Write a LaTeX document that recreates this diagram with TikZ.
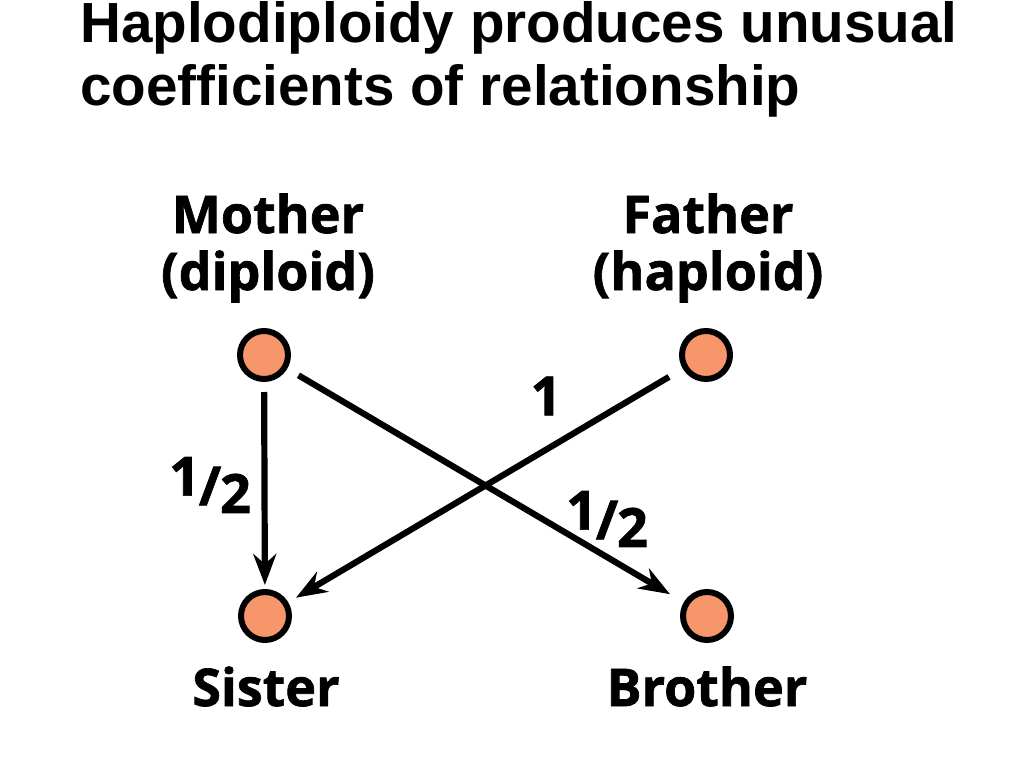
\documentclass[tikz,border=0pt]{standalone}
\usepackage{fontspec}
\setmainfont{Liberation Sans}
\newfontfamily\labfont{Open Sans}[BoldFeatures={FakeBold=1.3}]
\usetikzlibrary{arrows.meta}
\definecolor{dotfill}{RGB}{247,150,106}
\tikzset{
  dot/.style={circle, draw=black, line width=6pt, fill=dotfill, minimum size=48pt, inner sep=0pt, outer sep=0pt},
  lab/.style={font=\labfont\bfseries\fontsize{52}{57}\selectfont, anchor=base, inner sep=0pt},
  frac/.style={font=\labfont\bfseries\fontsize{54}{58}\selectfont, inner sep=0pt},
  arr/.style={line width=6.2pt, -{Stealth[length=31pt,width=23pt,inset=10pt]}},
  title/.style={font=\bfseries\fontsize{56.6}{62}\selectfont, anchor=base west, inner sep=0pt, align=left}
}
\newcommand{\halfl}{\raisebox{0.2em}{1}\kern-0.02em\raisebox{0.02em}{/}\kern-0.02em\raisebox{-0.12em}{2}}
\begin{document}
\begin{tikzpicture}[x=1pt,y=-1pt]
\useasboundingbox (0,0) rectangle (1024,768);
\node[title] (t1) at (80,43) {Haplodiploidy produces unusual};
\node[title] (t2) at (80,105) {coefficients of relationship};

\node[lab] (mo1) at (268,233) {Mother};
\node[lab] (mo2) at (268,290) {(diploid)};
\node[lab] (fa1) at (708,233) {Father};
\node[lab] (fa2) at (708,290) {(haploid)};
\node[lab] (si) at (266,706) {Sister};
\node[lab] (br) at (707,706) {Brother};

\node[dot] (m) at (264,355) {};
\node[dot] (f) at (706,355) {};
\node[dot] (s) at (265,616) {};
\node[dot] (b) at (707,616) {};

\draw[arr, shorten <=13pt, shorten >=7pt] (m) -- (s);
\draw[arr, shorten <=16pt, shorten >=19pt] (m) -- (b);
\draw[arr, shorten <=19pt, shorten >=12pt] (f) -- (s);

\node[frac] (h1) at (210,485) {\halfl};
\node[frac] (one) at (546,396) {1};
\node[frac] (h2) at (607,519) {\halfl};
\end{tikzpicture}
\end{document}
